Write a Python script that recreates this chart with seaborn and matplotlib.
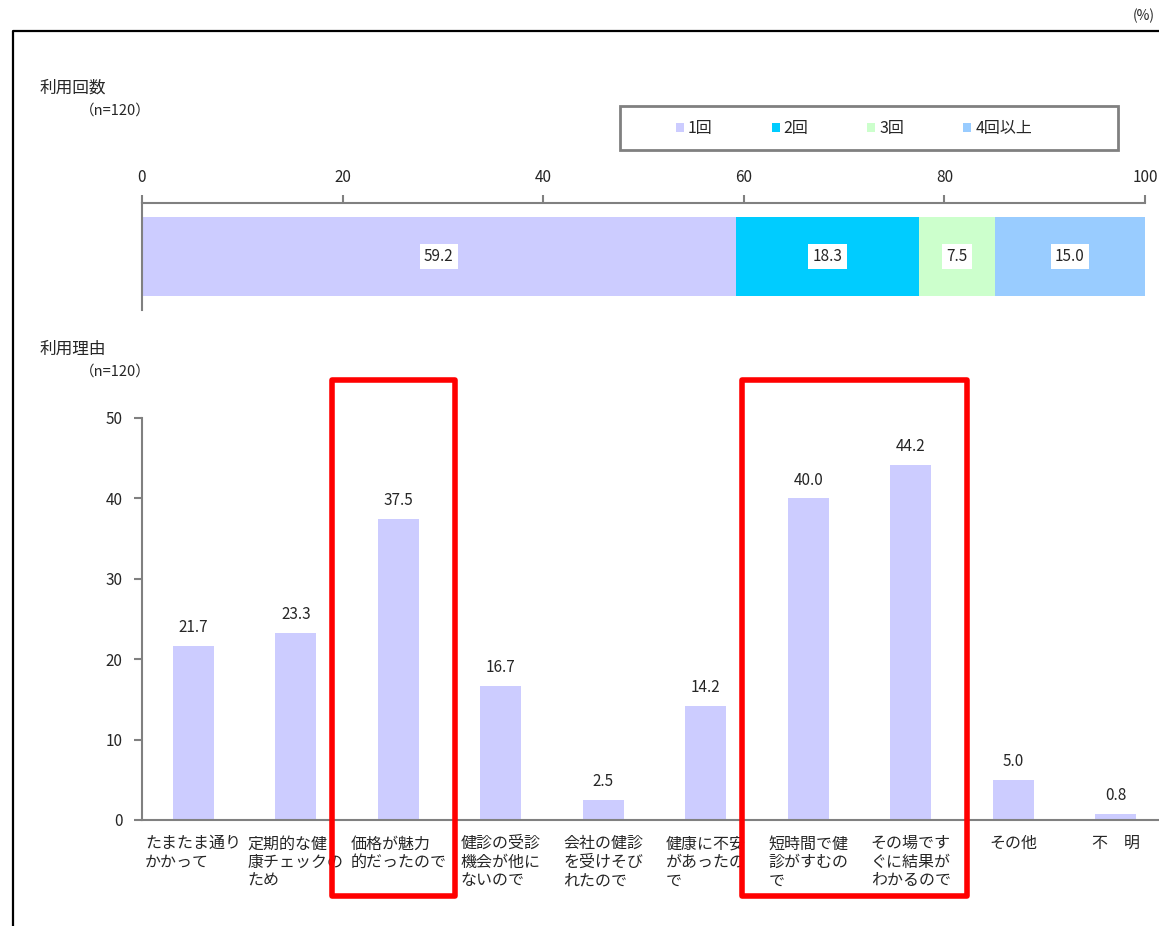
import matplotlib
matplotlib.use("Agg")
import matplotlib.pyplot as plt
import seaborn as sns
import pandas as pd
from matplotlib.patches import Patch, Rectangle
from matplotlib.lines import Line2D
import matplotlib.transforms as mtrans

sns.set_style("white")
plt.rcParams["font.family"] = ["Noto Sans CJK JP", "DejaVu Sans"]

# 利用回数 (n=120)
freq_labels = ["1回", "2回", "3回", "4回以上"]
freq_values = [59.2, 18.3, 7.5, 15.0]
freq_colors = ["#CCCCFF", "#00CCFF", "#CCFFCC", "#99CCFF"]

# 利用理由 (n=120)
reasons = [
    "たまたま通り\nかかって",
    "定期的な健\n康チェックの\nため",
    "価格が魅力\n的だったので",
    "健診の受診\n機会が他に\nないので",
    "会社の健診\nを受けそび\nれたので",
    "健康に不安\nがあったの\nで",
    "短時間で健\n診がすむの\nで",
    "その場です\nぐに結果が\nわかるので",
    "その他",
    "不　明",
]
reason_values = [21.7, 23.3, 37.5, 16.7, 2.5, 14.2, 40.0, 44.2, 5.0, 0.8]
highlight_groups = [[2], [6, 7]]

W, H = 1159, 926
fig = plt.figure(figsize=(W / 100, H / 100), dpi=100)


def fx(px):
    return px / W


def fy(py):
    return 1 - py / H


gray = "#808080"

# ---- top: stacked horizontal bar ----
ax1 = fig.add_axes([fx(142), fy(310), fx(1145) - fx(142), fy(203) - fy(310)])
left = 0
for lab, val, col in zip(freq_labels, freq_values, freq_colors):
    ax1.barh([0], [val], left=left, height=0.73, color=col, edgecolor="none", label=lab)
    ax1.text(left + val / 2, 0, f"{val:.1f}", ha="center", va="center", fontsize=11,
             bbox=dict(facecolor="white", edgecolor="none", pad=3))
    left += val
ax1.set_xlim(0, 100)
ax1.set_ylim(0.5, -0.5)
ax1.set_yticks([])
ax1.xaxis.tick_top()
ax1.set_xticks(range(0, 101, 20))
ax1.tick_params(axis="x", direction="out", length=6, color=gray, width=1.5,
                labelsize=11, pad=6)
for s in ["right", "bottom"]:
    ax1.spines[s].set_visible(False)
for s in ["top", "left"]:
    ax1.spines[s].set_color(gray)
    ax1.spines[s].set_linewidth(1.5)

# legend with its own frame
fig.add_artist(Rectangle((fx(620), fy(150)), fx(1118) - fx(620), fy(106) - fy(150),
                         transform=fig.transFigure, fill=False, edgecolor=gray, linewidth=2))
handles = [Patch(facecolor=c, edgecolor="none") for c in freq_colors]
fig.legend(handles, freq_labels, loc="center", bbox_to_anchor=(fx(854), fy(129)),
           ncol=4, frameon=False, fontsize=11.5, handlelength=0.5, handleheight=0.5,
           handletextpad=0.25, columnspacing=3.7)

fig.text(fx(40), fy(88), "利用回数", fontsize=12, va="center")
fig.text(fx(80), fy(111), "（n=120）", fontsize=10.5, va="center")

# ---- bottom: reasons bar chart ----
ax2 = fig.add_axes([fx(142), fy(820), 1025 / W, fy(418) - fy(820)])
df = pd.DataFrame({"reason": range(len(reasons)), "value": reason_values})
sns.barplot(data=df, x="reason", y="value", color="#CCCCFF", width=0.4,
            saturation=1, ax=ax2, edgecolor="none")
ax2.set_xlim(-0.5, len(reasons) - 0.5)
ax2.set_ylim(0, 50)
ax2.set_yticks(range(0, 51, 10))
ax2.set_xticks([])
ax2.set_xlabel("")
ax2.set_ylabel("")
ax2.tick_params(axis="y", left=True, direction="out", length=6, color=gray, width=1.5,
                labelsize=11, pad=8)
for s in ["right", "top"]:
    ax2.spines[s].set_visible(False)
for s in ["left", "bottom"]:
    ax2.spines[s].set_color(gray)
    ax2.spines[s].set_linewidth(1.5)

for i, v in enumerate(reason_values):
    ax2.annotate(f"{v:.1f}", (i, v), xytext=(0, 7), textcoords="offset points",
                 ha="center", va="bottom", fontsize=11)

trans = mtrans.blended_transform_factory(ax2.transData, ax2.transAxes)
for i, lab in enumerate(reasons):
    ax2.text(i, 0, lab, transform=trans + mtrans.ScaledTranslation(0, -11 / 72, fig.dpi_scale_trans),
             ha="center", va="top", multialignment="left", fontsize=11.5, linespacing=1.12,
             clip_on=False)

fig.text(fx(40), fy(349), "利用理由", fontsize=12, va="center")
fig.text(fx(80), fy(372), "（n=120）", fontsize=10.5, va="center")

# red highlight boxes around chosen categories
for grp in highlight_groups:
    x0 = ax2.transData.transform((min(grp) - 0.5, 0))[0] - 15
    x1 = ax2.transData.transform((max(grp) + 0.5, 0))[0] + 5
    fig.add_artist(Rectangle((fx(x0), fy(896)), (x1 - x0) / W, fy(380) - fy(896),
                             transform=fig.transFigure, fill=False, edgecolor="#FF0000",
                             linewidth=4, joinstyle="round", zorder=10))

# outer frame and unit
fig.add_artist(Line2D([fx(13), fx(13), 1.0], [0, fy(31), fy(31)], transform=fig.transFigure,
                      color="black", linewidth=1.6))
fig.text(fx(1133), fy(16), "(%)", fontsize=10, va="center", ha="left")

fig.savefig("out.png", dpi=100)
